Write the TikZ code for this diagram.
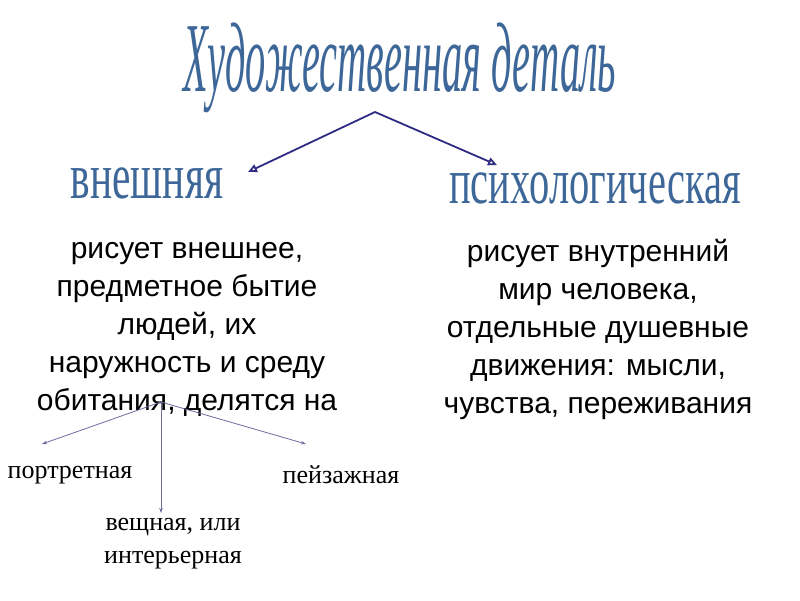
\documentclass[tikz,border=0pt]{standalone}
\usepackage{fontspec}
\setmainfont{Liberation Serif}
\newfontfamily\arialf{Liberation Sans}
\usetikzlibrary{arrows.meta}
\definecolor{wordart}{HTML}{3D6798}
\definecolor{navy}{HTML}{2E2C82}
\definecolor{slate}{HTML}{6C6C9E}
\tikzset{
  wa/.style={inner sep=0pt, text=wordart},
  body/.style={inner sep=0pt, align=center, font=\arialf\fontsize{30}{38}\selectfont},
  kind/.style={inner sep=0pt, align=center, font=\fontsize{26}{33}\selectfont},
  big/.style={draw=navy, line width=1.8pt, -{Triangle[open, length=9pt, width=8pt]}},
  small/.style={draw=slate, line width=0.8pt, -{Stealth[length=5pt, width=3.5pt]}}
}
\begin{document}
\begin{tikzpicture}[x=1pt, y=-1pt]
\useasboundingbox (0,0) rectangle (800,600);
% title
\node[wa] (title) at (400,68) {\scalebox{0.9}[2.2]{\fontsize{45}{50}\selectfont\itshape Художественная деталь}};
% categories
\node[wa] (ext) at (147,183) {\scalebox{0.92}[1.45]{\fontsize{45}{50}\selectfont внешняя}};
\node[wa] (psy) at (595,188) {\scalebox{0.9}[1.45]{\fontsize{45}{50}\selectfont психологическая}};
\coordinate (apex) at (375,112);
\coordinate (tipl) at (248,172);
\coordinate (tipr) at (497,165);
\draw[big] (apex) -- (tipl);
\draw[big] (apex) -- (tipr);
% bodies
\node[body] (lt) at (187,329) {рисует внешнее,\\предметное бытие\\людей, их\\наружность и среду\\обитания, делятся на};
\node[body] (rt) at (598,329) {рисует внутренний\\мир человека,\\отдельные душевные\\движения: мысли,\\чувства, переживания};
% kinds
\node[kind] (portr) at (70,475) {портретная};
\node[kind] (land) at (341,475) {пейзажная};
\node[kind] (thing) at (173,544) {вещная, или\\интерьерная};
\coordinate (src) at (161,402);
\coordinate (tp) at (42,444);
\coordinate (tl2) at (306,444);
\coordinate (tt) at (161,513);
\draw[small] (src) -- (tp);
\draw[small] (src) -- (tl2);
\draw[small] (src) -- (tt);
\end{tikzpicture}
\end{document}
